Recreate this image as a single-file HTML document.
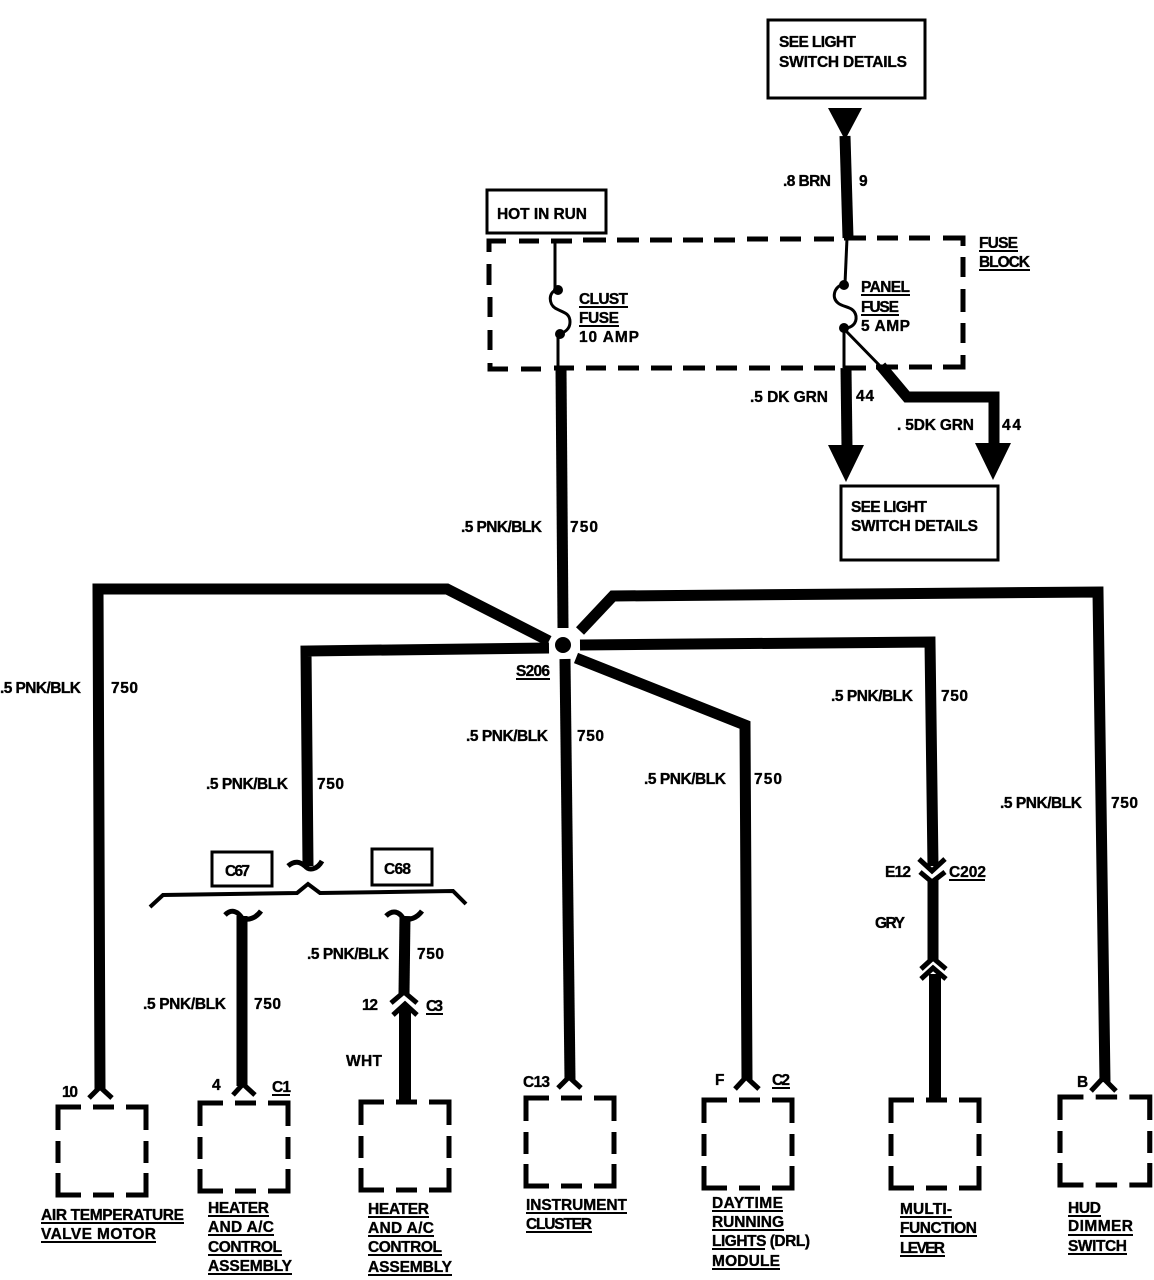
<!DOCTYPE html>
<html><head><meta charset="utf-8">
<style>
html,body{margin:0;padding:0;background:#fff}
svg{display:block}
text{font-family:"Liberation Sans",sans-serif;font-weight:bold;font-size:15.5px;fill:#000;stroke:#000;stroke-width:.35}
.w{fill:none;stroke:#000;stroke-width:11;stroke-linejoin:miter}
.t{fill:none;stroke:#000;stroke-width:3}
.c{fill:none;stroke:#000;stroke-width:5}
.b{fill:#fff;stroke:#000;stroke-width:3}
.u{stroke:#000;stroke-width:2}
</style></head><body>
<svg xmlns="http://www.w3.org/2000/svg" width="1154" height="1280" viewBox="0 0 1154 1280">
<defs>
<path id="db" d="M0,23V0H23M35,0H56M68,0H88V23M0,34V56M88,34V56M0,66V88H23M35,88H56M68,88H88V66" fill="none" stroke="#000" stroke-width="5"/>
</defs>

<!-- boxes -->
<rect class="b" x="768" y="20" width="157" height="78"/>
<rect class="b" x="487" y="190" width="119" height="43"/>
<rect class="b" x="841" y="486" width="157" height="74"/>
<rect class="b" x="212" y="852" width="60" height="34"/>
<rect class="b" x="372" y="849" width="60" height="36"/>

<!-- fuse block -->
<path d="M489,252V241H506M519,241H539M551,241H572M583,240H606M617,240H639M650,240H672M683,240H703M714,240H735M747,239H768M780,239H801M814,239H834M844,238H866M877,238H898M909,238H930M943,238H963V246M963,257V277M963,289V312M963,323V343M963,355V367H943M932,367H909M898,367H876M866,368H844M835,368H814M803,368H781M770,368H749M737,368H716M705,368H683M672,368H651M639,368H618M606,368H586M574,368H554M541,369H521M508,369H490V363M490,350V330M490,317V297M489,285V264" fill="none" stroke="#000" stroke-width="5"/>

<!-- top feed -->
<path d="M828,108H862L845,140Z"/>
<path class="w" d="M845,136L848,238"/>
<path class="t" d="M847,238L845,284"/>
<circle cx="844" cy="285" r="5"/>
<path class="t" d="M843,284C833,288 832,298 838,303C844,308 854,306 856,316C857,324 851,328 845,328"/>
<circle cx="844" cy="328" r="5"/>
<path class="t" d="M844,328V368M845,330L884,370"/>
<path class="w" d="M846,368L847,447"/>
<path d="M828,445H864L846,482Z"/>
<path class="w" d="M881,366L907,397H994V447"/>
<path d="M975,443H1011L993,480Z"/>

<!-- clust fuse -->
<path class="t" d="M555,240V290"/>
<circle cx="558" cy="290" r="5"/>
<path class="t" d="M556,290C548,293 549,304 555,308C561,312 570,312 570,322C570,329 565,332 560,334"/>
<circle cx="560" cy="334" r="5"/>
<path class="t" d="M558,334V368"/>
<path class="w" d="M561,368L563,628"/>

<!-- splice -->
<circle cx="563" cy="645" r="8"/>
<path class="w" d="M549,641L447,589H98L100,1090"/>
<path class="w" d="M549,648L306,651L308,866"/>
<path class="w" d="M565,659L570,1080"/>
<path class="w" d="M576,658L745,725L747,1080"/>
<path class="w" d="M580,645L930,642L933,866"/>
<path class="w" d="M580,631L613,596L1098,592L1105,1082"/>

<!-- C67 / C68 connection -->
<path class="c" d="M288,866C295,860 300,862 305,866C309,871 317,870 322,861"/>
<path d="M150,907L163,895L297,893L308,884L320,893L453,891L466,904" fill="none" stroke="#000" stroke-width="4"/>
<path class="c" d="M225,915C232,908 238,912 242,918C248,921 256,918 261,911"/>
<path class="w" d="M242,916V1086"/>
<path class="c" d="M386,916C393,909 399,912 403,918C409,921 417,918 422,911"/>
<path class="w" d="M405,916L404,994"/>
<path class="c" d="M391,1003L404,992L417,1003"/>
<path class="c" d="M393,1015L405,1004L417,1015"/>
<path class="w" d="M405,1006V1102" style="stroke-width:12"/>

<!-- C202 -->
<path class="c" d="M919,859L932,871L945,859"/>
<path class="c" d="M920,872L932,882L945,872"/>
<path class="w" d="M933,880V960"/>
<path class="c" d="M921,969L933,958L946,969"/>
<path class="c" d="M921,979L933,968L946,979"/>
<path class="w" d="M935,974V1101" style="stroke-width:12"/>

<!-- end chevrons -->
<path class="c" d="M89,1098L100,1087L112,1098"/>
<path class="c" d="M233,1095L243,1084L255,1095"/>
<path class="c" d="M558,1088L569,1077L581,1088"/>
<path class="c" d="M735,1089L746,1077L759,1089"/>
<path class="c" d="M1091,1091L1103,1078L1116,1091"/>

<!-- dashed component boxes -->
<use href="#db" transform="translate(58,1107)"/>
<use href="#db" transform="translate(200,1103)"/>
<use href="#db" transform="translate(361,1102)"/>
<use href="#db" transform="translate(526,1098)"/>
<use href="#db" transform="translate(704,1100)"/>
<use href="#db" transform="translate(891,1100)"/>
<use href="#db" transform="translate(1060,1097) scale(1.02,1)"/>

<!-- labels -->
<text x="779" y="47" textLength="77">SEE LIGHT</text>
<text x="779" y="67" textLength="128">SWITCH DETAILS</text>
<text x="783" y="186" textLength="48">.8 BRN</text>
<text x="859" y="186" textLength="9">9</text>
<text x="497" y="219" textLength="90">HOT IN RUN</text>
<text x="979" y="248" textLength="39">FUSE</text>
<text x="979" y="267" textLength="51">BLOCK</text>
<path class="u" d="M979,251H1018M979,270H1030"/>
<text x="579" y="304" textLength="49">CLUST</text>
<text x="579" y="323" textLength="40">FUSE</text>
<text x="579" y="342" textLength="60">10 AMP</text>
<path class="u" d="M579,307H628M579,326H619"/>
<text x="861" y="292" textLength="49">PANEL</text>
<text x="861" y="312" textLength="38">FUSE</text>
<text x="861" y="331" textLength="49">5 AMP</text>
<path class="u" d="M861,295H910M861,315H899"/>
<text x="750" y="402" textLength="78">.5 DK GRN</text>
<text x="856" y="401" textLength="18">44</text>
<text x="897" y="430" textLength="77">. 5DK GRN</text>
<text x="1002" y="430" textLength="19">44</text>
<text x="851" y="512" textLength="76">SEE LIGHT</text>
<text x="851" y="531" textLength="127">SWITCH DETAILS</text>

<text x="461" y="532" textLength="81">.5 PNK/BLK</text>
<text x="570" y="532" textLength="28">750</text>
<text x="0" y="693" textLength="81">.5 PNK/BLK</text>
<text x="111" y="693" textLength="27">750</text>
<text x="516" y="676" textLength="34">S206</text>
<path class="u" d="M516,679H550"/>
<text x="466" y="741" textLength="82">.5 PNK/BLK</text>
<text x="577" y="741" textLength="27">750</text>
<text x="831" y="701" textLength="82">.5 PNK/BLK</text>
<text x="941" y="701" textLength="27">750</text>
<text x="644" y="784" textLength="82">.5 PNK/BLK</text>
<text x="754" y="784" textLength="28">750</text>
<text x="206" y="789" textLength="82">.5 PNK/BLK</text>
<text x="317" y="789" textLength="27">750</text>
<text x="1000" y="808" textLength="82">.5 PNK/BLK</text>
<text x="1111" y="808" textLength="27">750</text>

<text x="225" y="876" textLength="25">C67</text>
<text x="384" y="874" textLength="27">C68</text>
<text x="885" y="877" textLength="26">E12</text>
<text x="949" y="877" textLength="37">C202</text>
<path class="u" d="M949,880H985"/>
<text x="875" y="928" textLength="30">GRY</text>
<text x="307" y="959" textLength="82">.5 PNK/BLK</text>
<text x="417" y="959" textLength="27">750</text>
<text x="143" y="1009" textLength="83">.5 PNK/BLK</text>
<text x="254" y="1009" textLength="27">750</text>
<text x="362" y="1010" textLength="16">12</text>
<text x="426" y="1011" textLength="17">C3</text>
<path class="u" d="M426,1014H443"/>
<text x="346" y="1066" textLength="36">WHT</text>
<text x="62" y="1097" textLength="16">10</text>
<text x="212" y="1090" textLength="9">4</text>
<text x="272" y="1092" textLength="19">C1</text>
<path class="u" d="M272,1095H290"/>
<text x="523" y="1087" textLength="27">C13</text>
<text x="715" y="1085" textLength="8">F</text>
<text x="772" y="1085" textLength="18">C2</text>
<path class="u" d="M772,1088H790"/>
<text x="1077" y="1087" textLength="9">B</text>

<text x="41" y="1220" textLength="143">AIR TEMPERATURE</text>
<text x="41" y="1239" textLength="115">VALVE MOTOR</text>
<path class="u" d="M41,1223H184M41,1242H156"/>

<text x="208" y="1213" textLength="61">HEATER</text>
<text x="208" y="1232" textLength="66">AND A/C</text>
<text x="208" y="1252" textLength="74">CONTROL</text>
<text x="208" y="1271" textLength="84">ASSEMBLY</text>
<path class="u" d="M208,1216H269M208,1235H274M208,1255H282M208,1274H292"/>

<text x="368" y="1214" textLength="61">HEATER</text>
<text x="368" y="1233" textLength="66">AND A/C</text>
<text x="368" y="1252" textLength="74">CONTROL</text>
<text x="368" y="1272" textLength="84">ASSEMBLY</text>
<path class="u" d="M368,1217H429M368,1236H434M368,1255H442M368,1275H452"/>

<text x="526" y="1210" textLength="101">INSTRUMENT</text>
<text x="526" y="1229" textLength="66">CLUSTER</text>
<path class="u" d="M526,1213H627M526,1232H592"/>

<text x="712" y="1208" textLength="71">DAYTIME</text>
<text x="712" y="1227" textLength="72">RUNNING</text>
<text x="712" y="1246" textLength="98">LIGHTS (DRL)</text>
<text x="712" y="1266" textLength="68">MODULE</text>
<path class="u" d="M712,1211H783M712,1230H784M712,1249H765M712,1269H780"/>

<text x="900" y="1214" textLength="52">MULTI-</text>
<text x="900" y="1233" textLength="77">FUNCTION</text>
<text x="900" y="1253" textLength="45">LEVER</text>
<path class="u" d="M900,1217H952M900,1236H977M900,1256H945"/>

<text x="1068" y="1213" textLength="33">HUD</text>
<text x="1068" y="1231" textLength="65">DIMMER</text>
<text x="1068" y="1251" textLength="59">SWITCH</text>
<path class="u" d="M1068,1216H1101M1068,1235H1133M1068,1254H1127"/>
</svg>
</body></html>
